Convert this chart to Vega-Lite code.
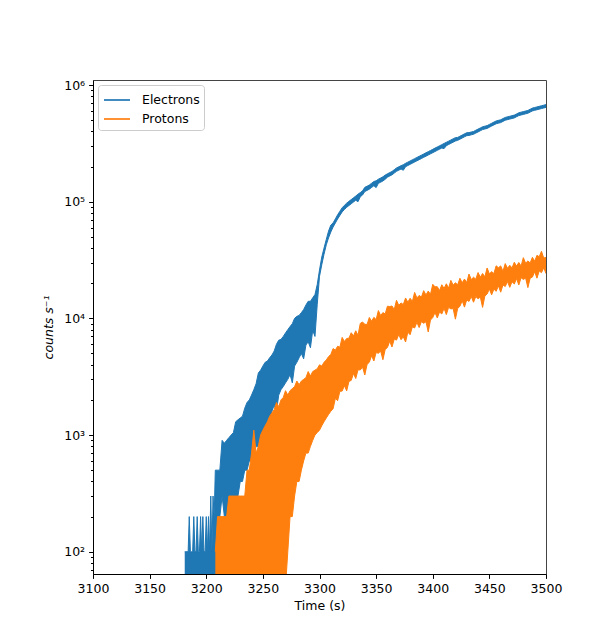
{
"$schema": "https://vega.github.io/schema/vega-lite/v6.json",
"width": 453, "height": 494,
"autosize": "none",
"padding": {"left": 93, "top": 80, "right": 54, "bottom": 69},
"background": "white",
"config": {
  "view": {"stroke": "#444444", "strokeWidth": 1},
  "font": "DejaVu Sans",
  "axis": {"labelFont": "DejaVu Sans", "labelFontSize": 12.5, "labelColor": "black", "titleFont": "DejaVu Sans", "titleFontSize": 12.5, "titleColor": "black", "titleFontWeight": "normal", "domainColor": "black", "tickColor": "black", "grid": false, "tickWidth": 1, "domainWidth": 1}
},
"data": {"values": [
{"t":3181,"Eh":100,"El":50},{"t":3182,"Eh":100,"El":50},{"t":3183,"Eh":100,"El":50},{"t":3184,"Eh":100,"El":50},{"t":3185,"Eh":200,"El":50},{"t":3186,"Eh":100,"El":50},{"t":3187,"Eh":100,"El":50},{"t":3188,"Eh":100,"El":50},{"t":3189,"Eh":200,"El":50},{"t":3190,"Eh":100,"El":50},
{"t":3191,"Eh":100,"El":50},{"t":3192,"Eh":200,"El":50},{"t":3193,"Eh":100,"El":50},{"t":3194,"Eh":100,"El":50},{"t":3195,"Eh":200,"El":50},{"t":3196,"Eh":100,"El":50},{"t":3197,"Eh":200,"El":50},{"t":3198,"Eh":100,"El":50},{"t":3199,"Eh":100,"El":50},{"t":3200,"Eh":200,"El":50},
{"t":3201,"Eh":100,"El":50},{"t":3202,"Eh":200,"El":50},{"t":3203,"Eh":100,"El":50},{"t":3204,"Eh":300,"El":50},{"t":3205,"Eh":100,"El":50},{"t":3206,"Eh":300,"El":50},{"t":3207,"Eh":200,"El":50},
{"t":3208,"Eh":500,"El":50,"Ph":100,"Pl":50},{"t":3210,"Eh":500,"El":100,"Ph":200,"Pl":50},{"t":3212,"Eh":500,"El":200,"Ph":200,"Pl":50},{"t":3214,"Eh":900,"El":300,"Ph":200,"Pl":50},{"t":3216,"Eh":850,"El":200,"Ph":200,"Pl":50},
{"t":3218,"Eh":900,"El":200,"Ph":200,"Pl":50},{"t":3220,"Eh":950,"El":200,"Ph":300,"Pl":50},{"t":3222,"Eh":1000,"El":300,"Ph":300,"Pl":50},{"t":3224,"Eh":1050,"El":300,"Ph":300,"Pl":50},{"t":3226,"Eh":1300,"El":300,"Ph":300,"Pl":50},
{"t":3228,"Eh":1350,"El":300,"Ph":300,"Pl":50},{"t":3230,"Eh":1400,"El":400,"Ph":300,"Pl":50},{"t":3232,"Eh":1450,"El":400,"Ph":300,"Pl":50},{"t":3234,"Eh":1700,"El":500,"Ph":300,"Pl":50},{"t":3236,"Eh":1900,"El":500,"Ph":500,"Pl":50},
{"t":3238,"Eh":2000,"El":600,"Ph":500,"Pl":50},{"t":3240,"Eh":2200,"El":600,"Ph":700,"Pl":50},{"t":3242,"Eh":2450,"El":700,"Ph":1100,"Pl":50},{"t":3244,"Eh":2750,"El":800,"Ph":700,"Pl":50},{"t":3246,"Eh":3400,"El":800,"Ph":800,"Pl":50},
{"t":3248,"Eh":3600,"El":900,"Ph":1000,"Pl":50},{"t":3250,"Eh":3900,"El":1000,"Ph":1100,"Pl":50},{"t":3252,"Eh":4200,"El":1100,"Ph":1200,"Pl":50},{"t":3254,"Eh":4300,"El":1300,"Ph":1300,"Pl":50},{"t":3256,"Eh":4600,"El":1400,"Ph":1450,"Pl":50},
{"t":3258,"Eh":4850,"El":1600,"Ph":1550,"Pl":50},{"t":3260,"Eh":5250,"El":1800,"Ph":1650,"Pl":50},{"t":3262,"Eh":6000,"El":1600,"Ph":1900,"Pl":50},{"t":3264,"Eh":6500,"El":2200,"Ph":1750,"Pl":50},{"t":3266,"Eh":6600,"El":2450,"Ph":2000,"Pl":50},
{"t":3268,"Eh":7000,"El":2600,"Ph":2100,"Pl":50},{"t":3270,"Eh":7500,"El":2800,"Ph":2400,"Pl":50},{"t":3272,"Eh":8000,"El":3000,"Ph":2200,"Pl":100},{"t":3274,"Eh":8500,"El":3300,"Ph":2400,"Pl":200},{"t":3276,"Eh":9000,"El":2800,"Ph":2500,"Pl":200},
{"t":3278,"Eh":10000,"El":3900,"Ph":2600,"Pl":300},{"t":3280,"Eh":10400,"El":4200,"Ph":2900,"Pl":400},{"t":3282,"Eh":10600,"El":4600,"Ph":2700,"Pl":400},{"t":3284,"Eh":11200,"El":5000,"Ph":2900,"Pl":500},{"t":3286,"Eh":11900,"El":4500,"Ph":3000,"Pl":600},
{"t":3288,"Eh":13000,"El":5900,"Ph":3100,"Pl":700},{"t":3290,"Eh":14000,"El":6300,"Ph":3500,"Pl":700},{"t":3292,"Eh":14000,"El":5600,"Ph":3200,"Pl":800},{"t":3294,"Eh":15000,"El":7900,"Ph":3500,"Pl":900},{"t":3296,"Eh":16000,"El":7000,"Ph":3600,"Pl":1000},
{"t":3298,"Eh":19500,"El":13200,"Ph":3700,"Pl":1050},{"t":3300,"Eh":26000,"El":22900,"Ph":4000,"Pl":1100},{"t":3302,"Eh":33500,"El":28800,"Ph":3900,"Pl":1200},{"t":3304,"Eh":40000,"El":35500,"Ph":4200,"Pl":1300},{"t":3306,"Eh":47500,"El":42700,"Ph":4400,"Pl":1400},
{"t":3308,"Eh":56000,"El":49000,"Ph":4700,"Pl":1500},{"t":3310,"Eh":63000,"El":55000,"Ph":4900,"Pl":1600},
{"t":3312,"Eh":65800,"El":60600,"Ph":5510,"Pl":1680},{"t":3314,"Eh":71200,"El":65600,"Ph":5340,"Pl":2060},{"t":3316,"Eh":77200,"El":71100,"Ph":5770,"Pl":1970},{"t":3318,"Eh":82800,"El":76200,"Ph":5660,"Pl":2370},{"t":3320,"Eh":88700,"El":81700,"Ph":6870,"Pl":2380},
{"t":3322,"Eh":93000,"El":85600,"Ph":6330,"Pl":2650},{"t":3324,"Eh":97200,"El":89500,"Ph":6720,"Pl":2390},{"t":3326,"Eh":100700,"El":92700,"Ph":6760,"Pl":2880},{"t":3328,"Eh":104200,"El":95900,"Ph":7530,"Pl":2940},{"t":3330,"Eh":108000,"El":99400,"Ph":7070,"Pl":3370},
{"t":3332,"Eh":111700,"El":102900,"Ph":7830,"Pl":3050},{"t":3334,"Eh":116000,"El":100000,"Ph":7160,"Pl":3620},{"t":3336,"Eh":119600,"El":110100,"Ph":9050,"Pl":3610},{"t":3338,"Eh":123900,"El":114100,"Ph":9310,"Pl":3820},{"t":3340,"Eh":132700,"El":122200,"Ph":8890,"Pl":3270},
{"t":3342,"Eh":135700,"El":125000,"Ph":8870,"Pl":4030},{"t":3344,"Eh":139000,"El":128000,"Ph":10180,"Pl":4210},{"t":3346,"Eh":143800,"El":132400,"Ph":9450,"Pl":4790},{"t":3348,"Eh":148900,"El":137100,"Ph":10200,"Pl":4310},{"t":3350,"Eh":151000,"El":132000,"Ph":9760,"Pl":5090},
{"t":3352,"Eh":155900,"El":143600,"Ph":11660,"Pl":5020},{"t":3354,"Eh":159500,"El":146900,"Ph":10580,"Pl":5240},{"t":3356,"Eh":163400,"El":150500,"Ph":11200,"Pl":4420},{"t":3358,"Eh":169000,"El":155600,"Ph":10920,"Pl":5410},{"t":3360,"Eh":173400,"El":162200,"Ph":12720,"Pl":5630},
{"t":3362,"Eh":177500,"El":166000,"Ph":12610,"Pl":6360},{"t":3364,"Eh":181500,"El":169800,"Ph":12770,"Pl":5680},{"t":3366,"Eh":187900,"El":175800,"Ph":11930,"Pl":6640},{"t":3368,"Eh":194600,"El":182000,"Ph":14280,"Pl":6510},{"t":3370,"Eh":199000,"El":186200,"Ph":12920,"Pl":7270},
{"t":3372,"Eh":203600,"El":190500,"Ph":13560,"Pl":6560},{"t":3374,"Eh":207500,"El":186000,"Ph":13130,"Pl":6940},{"t":3376,"Eh":213300,"El":199500,"Ph":14950,"Pl":6270},{"t":3378,"Eh":218300,"El":204200,"Ph":13760,"Pl":7610},{"t":3380,"Eh":223300,"El":208900,"Ph":14880,"Pl":7240},
{"t":3382,"Eh":228600,"El":213800,"Ph":13980,"Pl":8460},{"t":3384,"Eh":233900,"El":218800,"Ph":16680,"Pl":8270},{"t":3386,"Eh":239400,"El":223900,"Ph":14970,"Pl":9240},{"t":3388,"Eh":244900,"El":229100,"Ph":15720,"Pl":8340},{"t":3390,"Eh":250600,"El":234400,"Ph":15220,"Pl":9390},
{"t":3392,"Eh":256500,"El":239900,"Ph":17280,"Pl":9070},{"t":3394,"Eh":262400,"El":245500,"Ph":15880,"Pl":9360},{"t":3396,"Eh":268500,"El":251200,"Ph":17130,"Pl":7650},{"t":3398,"Eh":274700,"El":257000,"Ph":16060,"Pl":9670},{"t":3400,"Eh":281100,"El":263000,"Ph":19570,"Pl":10160},
{"t":3402,"Eh":287800,"El":269200,"Ph":18620,"Pl":11240},{"t":3404,"Eh":294400,"El":275400,"Ph":18690,"Pl":10080},{"t":3406,"Eh":301200,"El":281800,"Ph":17310,"Pl":11330},{"t":3408,"Eh":308300,"El":288400,"Ph":19420,"Pl":10910},{"t":3410,"Eh":315700,"El":285000,"Ph":18060,"Pl":12190},
{"t":3412,"Eh":322800,"El":302000,"Ph":19780,"Pl":10770},{"t":3414,"Eh":330300,"El":309000,"Ph":18180,"Pl":12430},{"t":3416,"Eh":338000,"El":316200,"Ph":21160,"Pl":12050},{"t":3418,"Eh":345900,"El":323600,"Ph":19290,"Pl":12140},{"t":3420,"Eh":354000,"El":331100,"Ph":20150,"Pl":9840},
{"t":3422,"Eh":355500,"El":335400,"Ph":19420,"Pl":12150},{"t":3424,"Eh":364000,"El":343400,"Ph":22050,"Pl":12700},{"t":3426,"Eh":372400,"El":351300,"Ph":20180,"Pl":14160},{"t":3428,"Eh":381300,"El":359700,"Ph":21720,"Pl":12480},{"t":3430,"Eh":389900,"El":367800,"Ph":20310,"Pl":14410},
{"t":3432,"Eh":390800,"El":369700,"Ph":23980,"Pl":13960},{"t":3434,"Eh":395500,"El":374200,"Ph":21540,"Pl":15390},{"t":3436,"Eh":399900,"El":378300,"Ph":22500,"Pl":13740},{"t":3438,"Eh":409500,"El":387400,"Ph":21690,"Pl":15360},{"t":3440,"Eh":418800,"El":396200,"Ph":24700,"Pl":14720},
{"t":3442,"Eh":428700,"El":405600,"Ph":22530,"Pl":15230},{"t":3444,"Eh":438500,"El":414900,"Ph":24260,"Pl":12420},{"t":3446,"Eh":443700,"El":419800,"Ph":22690,"Pl":15530},{"t":3448,"Eh":448700,"El":424500,"Ph":27030,"Pl":16170},{"t":3450,"Eh":459400,"El":434600,"Ph":24060,"Pl":17830},
{"t":3452,"Eh":469900,"El":444600,"Ph":25140,"Pl":15920},{"t":3454,"Eh":481000,"El":455100,"Ph":24230,"Pl":17800},{"t":3456,"Eh":492000,"El":465500,"Ph":28220,"Pl":17050},{"t":3458,"Eh":497900,"El":471100,"Ph":27160,"Pl":19010},{"t":3460,"Eh":503500,"El":476300,"Ph":28150,"Pl":16760},
{"t":3462,"Eh":515500,"El":487700,"Ph":25340,"Pl":19350},{"t":3464,"Eh":527300,"El":498900,"Ph":29470,"Pl":18740},{"t":3466,"Eh":533600,"El":504800,"Ph":26870,"Pl":20660},{"t":3468,"Eh":539500,"El":510400,"Ph":28480,"Pl":18440},{"t":3470,"Eh":546100,"El":516600,"Ph":27050,"Pl":20590},
{"t":3472,"Eh":552000,"El":522200,"Ph":30250,"Pl":19710},{"t":3474,"Eh":565200,"El":534700,"Ph":28040,"Pl":21950},{"t":3476,"Eh":578000,"El":546800,"Ph":30120,"Pl":19330},{"t":3478,"Eh":585100,"El":553500,"Ph":28100,"Pl":22290},{"t":3480,"Eh":591500,"El":559600,"Ph":33140,"Pl":21560},
{"t":3482,"Eh":598700,"El":566400,"Ph":29730,"Pl":22140},{"t":3484,"Eh":605300,"El":572700,"Ph":31040,"Pl":18350},{"t":3486,"Eh":619700,"El":586300,"Ph":29880,"Pl":22080},{"t":3488,"Eh":633900,"El":599700,"Ph":33370,"Pl":22580},{"t":3490,"Eh":641500,"El":606900,"Ph":30880,"Pl":25130},
{"t":3492,"Eh":648700,"El":613700,"Ph":34680,"Pl":22100},{"t":3494,"Eh":656500,"El":621100,"Ph":33730,"Pl":25480},{"t":3496,"Eh":663800,"El":628000,"Ph":37610,"Pl":24650},{"t":3498,"Eh":671700,"El":635500,"Ph":32830,"Pl":27140},{"t":3500,"Eh":679200,"El":642600,"Ph":33330,"Pl":24200}
]},
"encoding": {
  "x": {"field": "t", "type": "quantitative",
        "scale": {"domain": [3100, 3500], "nice": false, "zero": false},
        "axis": {"title": "Time (s)", "format": "d", "values": [3100,3150,3200,3250,3300,3350,3400,3450,3500], "labelPadding": 4, "tickSize": 4.4, "titlePadding": 5, "labelFlush": false, "labelOverlap": false}}
},
"layer": [
  {"mark": {"type": "area", "clip": true, "color": "#1f77b4", "opacity": 1},
   "encoding": {
     "y": {"field": "Eh", "type": "quantitative", "title": "counts s⁻¹",
           "scale": {"type": "log", "domain": [64.4, 1104000], "nice": false},
           "axis": {"title": "counts s⁻¹", "titleFontStyle": "italic",
                    "values": [70,80,90,100,200,300,400,500,600,700,800,900,1000,2000,3000,4000,5000,6000,7000,8000,9000,10000,20000,30000,40000,50000,60000,70000,80000,90000,100000,200000,300000,400000,500000,600000,700000,800000,900000,1000000],
                    "labelExpr": "datum.value == 100 ? '10²' : datum.value == 1000 ? '10³' : datum.value == 10000 ? '10⁴' : datum.value == 100000 ? '10⁵' : datum.value == 1000000 ? '10⁶' : ''",
                    "tickSize": {"condition": {"test": "indexof([100,1000,10000,100000,1000000], datum.value) >= 0", "value": 4.4}, "value": 2.5},
                    "labelPadding": 4, "titlePadding": 8, "labelOverlap": false}},
     "y2": {"field": "El"}}},
  {"transform": [{"fold": ["Eh", "El"], "as": ["k", "v"]}],
   "mark": {"type": "line", "clip": true, "strokeWidth": 1.0},
   "encoding": {
     "y": {"field": "v", "type": "quantitative", "title": "counts s⁻¹"},
     "color": {"field": "k", "type": "nominal",
               "scale": {"domain": ["Eh", "Ph", "El", "Pl"], "range": ["#1f77b4", "#ff7f0e", "#1f77b4", "#ff7f0e"]},
               "legend": {"title": null, "values": ["Eh", "Ph"], "orient": "top-left", "offset": 5,
                          "labelExpr": "datum.label == 'Eh' ? 'Electrons' : 'Protons'",
                          "symbolType": "M-1.3,0H1.3", "symbolSize": 400, "symbolStrokeWidth": 1.7,
                          "labelFontSize": 12.5, "labelFont": "DejaVu Sans", "labelColor": "black",
                          "fillColor": "rgba(255,255,255,0.8)", "strokeColor": "#cccccc", "cornerRadius": 3,
                          "padding": 4, "rowPadding": 1, "labelOffset": 14, "symbolOffset": 4}}}},
  {"mark": {"type": "area", "clip": true, "color": "#ff7f0e", "opacity": 1},
   "encoding": {
     "y": {"field": "Ph", "type": "quantitative", "title": "counts s⁻¹"},
     "y2": {"field": "Pl"}}},
  {"transform": [{"fold": ["Ph", "Pl"], "as": ["k", "v"]}],
   "mark": {"type": "line", "clip": true, "strokeWidth": 1.0},
   "encoding": {
     "y": {"field": "v", "type": "quantitative", "title": "counts s⁻¹"},
     "color": {"field": "k", "type": "nominal",
               "scale": {"domain": ["Eh", "Ph", "El", "Pl"], "range": ["#1f77b4", "#ff7f0e", "#1f77b4", "#ff7f0e"]},
               "legend": {"title": null, "values": ["Eh", "Ph"], "orient": "top-left", "offset": 5,
                          "labelExpr": "datum.label == 'Eh' ? 'Electrons' : 'Protons'",
                          "symbolType": "M-1.3,0H1.3", "symbolSize": 400, "symbolStrokeWidth": 1.7,
                          "labelFontSize": 12.5, "labelFont": "DejaVu Sans", "labelColor": "black",
                          "fillColor": "rgba(255,255,255,0.8)", "strokeColor": "#cccccc", "cornerRadius": 3,
                          "padding": 4, "rowPadding": 1, "labelOffset": 14, "symbolOffset": 4}}}}
]
}
